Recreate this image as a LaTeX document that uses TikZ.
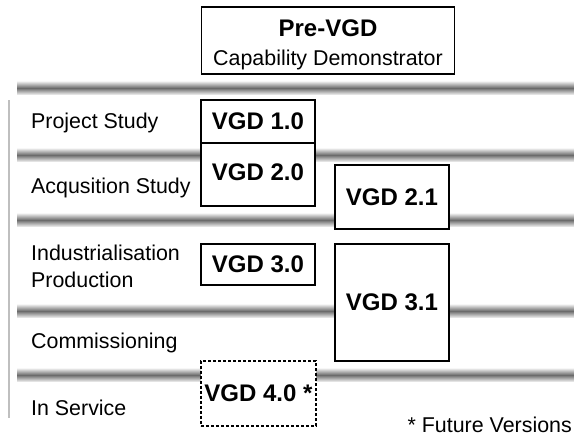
\documentclass[tikz,border=0pt]{standalone}
\usepackage{fontspec}
\setmainfont{Liberation Sans}
\definecolor{bardark}{gray}{0.42}
\definecolor{barlight}{gray}{0.93}
\definecolor{sideline}{gray}{0.75}
\tikzset{
  lbl/.style={anchor=west, inner sep=0pt, font=\fontsize{21.4}{27}\selectfont, align=left},
  vbox/.style={draw=black, line width=1.2pt, fill=white, inner sep=0pt,
     font=\fontsize{24}{28}\bfseries\selectfont},
  bar/.style={top color=barlight, bottom color=barlight, middle color=bardark},
}
\begin{document}
\begin{tikzpicture}[x=1pt,y=-1pt]
\useasboundingbox[fill=white] (0,0) rectangle (574,441);
% side line
\fill[sideline] (7.8,100) rectangle (10.2,418);
% bars
\foreach \yy in {88,155,220,311,375}{
  \shade[bar] (17,\yy-6.5) rectangle (574,\yy+6.5);
}
% Pre-VGD
\node[draw=black, line width=1.2pt, fill=white, minimum width=253pt, minimum height=67pt, inner sep=0pt] (pre) at (328,40.5) {};
\node[font=\fontsize{24}{28}\bfseries\selectfont, inner sep=0pt] (pret) at (328,28) {Pre-VGD};
\node[font=\fontsize{21.4}{26}\selectfont, inner sep=0pt] (prec) at (328,60) {Capability Demonstrator};
% boxes
\node[vbox, minimum width=114pt, minimum height=43pt] (v10) at (258,121.5) {VGD 1.0};
\node[vbox, minimum width=114pt, minimum height=63pt] (v20) at (258,174.5) {};
\node[font=\fontsize{24}{28}\bfseries\selectfont, inner sep=0pt] (v20t) at (258,172) {VGD 2.0};
\node[vbox, minimum width=114pt, minimum height=64pt] (v21) at (392,197) {VGD 2.1};
\node[vbox, minimum width=114pt, minimum height=41pt] (v30) at (258,264.5) {VGD 3.0};
\node[vbox, minimum width=114pt, minimum height=117pt] (v31) at (392,302.5) {VGD 3.1};
\node[draw=black, line width=1.2pt, dashed, dash pattern=on 3pt off 2pt, fill=white, inner sep=0pt,
      minimum width=115pt, minimum height=65pt, font=\fontsize{24}{28}\bfseries\selectfont] (v40) at (258.5,393.5) {VGD 4.0 *};
% labels
\node[lbl] (l1) at (31,123) {Project Study};
\node[lbl] (l2) at (31,188) {Acqusition Study};
\node[lbl] (l3) at (31,266.5) {Industrialisation\\Production};
\node[lbl] (l4) at (31,343) {Commissioning};
\node[lbl] (l5) at (31,408) {In Service};
\node[anchor=east, inner sep=0pt, font=\fontsize{21.4}{26}\selectfont] (fv) at (572,425) {* Future Versions};
\end{tikzpicture}
\end{document}
